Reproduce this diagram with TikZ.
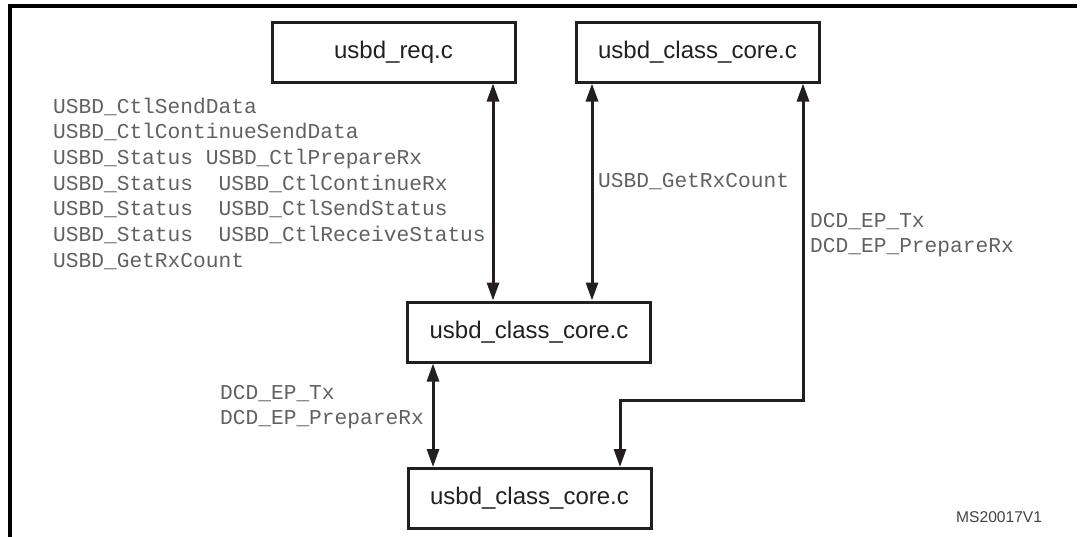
\documentclass[tikz,border=0pt]{standalone}
\usepackage{fontspec}
\setmainfont{Liberation Sans}
\newfontfamily\monofam{Liberation Mono}
\usetikzlibrary{arrows.meta}
\definecolor{ink}{HTML}{231F20}
\definecolor{labelgray}{HTML}{606163}
\tikzset{
  filebox/.style={draw=ink, line width=3pt, minimum width=243pt, minimum height=60pt,
    inner sep=0pt, text=ink, font=\fontsize{24}{28}\selectfont},
  biarrow/.style={draw=ink, line width=3pt, line join=miter,
    {Triangle[length=18pt,width=12pt]}-{Triangle[length=18pt,width=12pt]}},
  fnlabel/.style={anchor=base west, inner sep=0pt, text=labelgray,
    font=\monofam\fontsize{21.2}{25}\selectfont},
  idlabel/.style={anchor=base west, inner sep=0pt, text=ink!85,
    font=\fontsize{15.6}{18}\selectfont},
  frameline/.style={draw=black, line width=3.5pt}
}
\begin{document}
\begin{tikzpicture}[x=1pt, y=-1pt]
\useasboundingbox (0,0) rectangle (1084,536);
% frame
\draw[frameline] (10,545) -- (10,6) -- (1077,6);
% boxes
\node[filebox] (req) at (393.5,52) {usbd\_req.c};
\node[filebox] (ccA) at (697.5,52) {usbd\_class\_core.c};
\node[filebox] (ccB) at (529,332) {usbd\_class\_core.c};
\node[filebox] (ccC) at (529.5,498.5) {usbd\_class\_core.c};
% x positions of connectors
\coordinate (x1) at (493,0);
\coordinate (x2) at (592,0);
\coordinate (x3) at (433,0);
\coordinate (x4) at (803,0);
\coordinate (x5) at (620,0);
\coordinate (yb) at (0,400);
% connectors
\draw[biarrow] (x1 |- req.south) -- (x1 |- ccB.north);
\draw[biarrow] (x2 |- ccA.south) -- (x2 |- ccB.north);
\draw[biarrow] (x3 |- ccB.south) -- (x3 |- ccC.north);
\draw[biarrow] (x4 |- ccA.south) -- (x4 |- yb) -- (x5 |- yb) -- (x5 |- ccC.north);
% labels
\node[fnlabel] (l1) at (53,113) {USBD\_CtlSendData};
\node[fnlabel] (l2) at (53,138.7) {USBD\_CtlContinueSendData};
\node[fnlabel] (l3) at (53,164.3) {USBD\_Status USBD\_CtlPrepareRx};
\node[fnlabel] (l4) at (53,190) {USBD\_Status\ \ USBD\_CtlContinueRx};
\node[fnlabel] (l5) at (53,215.7) {USBD\_Status\ \ USBD\_CtlSendStatus};
\node[fnlabel] (l6) at (53,241.3) {USBD\_Status\ \ USBD\_CtlReceiveStatus};
\node[fnlabel] (l7) at (53,267) {USBD\_GetRxCount};
\node[fnlabel] (m1) at (598,187) {USBD\_GetRxCount};
\node[fnlabel] (r1) at (810,227) {DCD\_EP\_Tx};
\node[fnlabel] (r2) at (810,252) {DCD\_EP\_PrepareRx};
\node[fnlabel] (b1) at (220,399) {DCD\_EP\_Tx};
\node[fnlabel] (b2) at (220,424) {DCD\_EP\_PrepareRx};
\node[idlabel] (id) at (956,522) {MS20017V1};
\end{tikzpicture}
\end{document}
